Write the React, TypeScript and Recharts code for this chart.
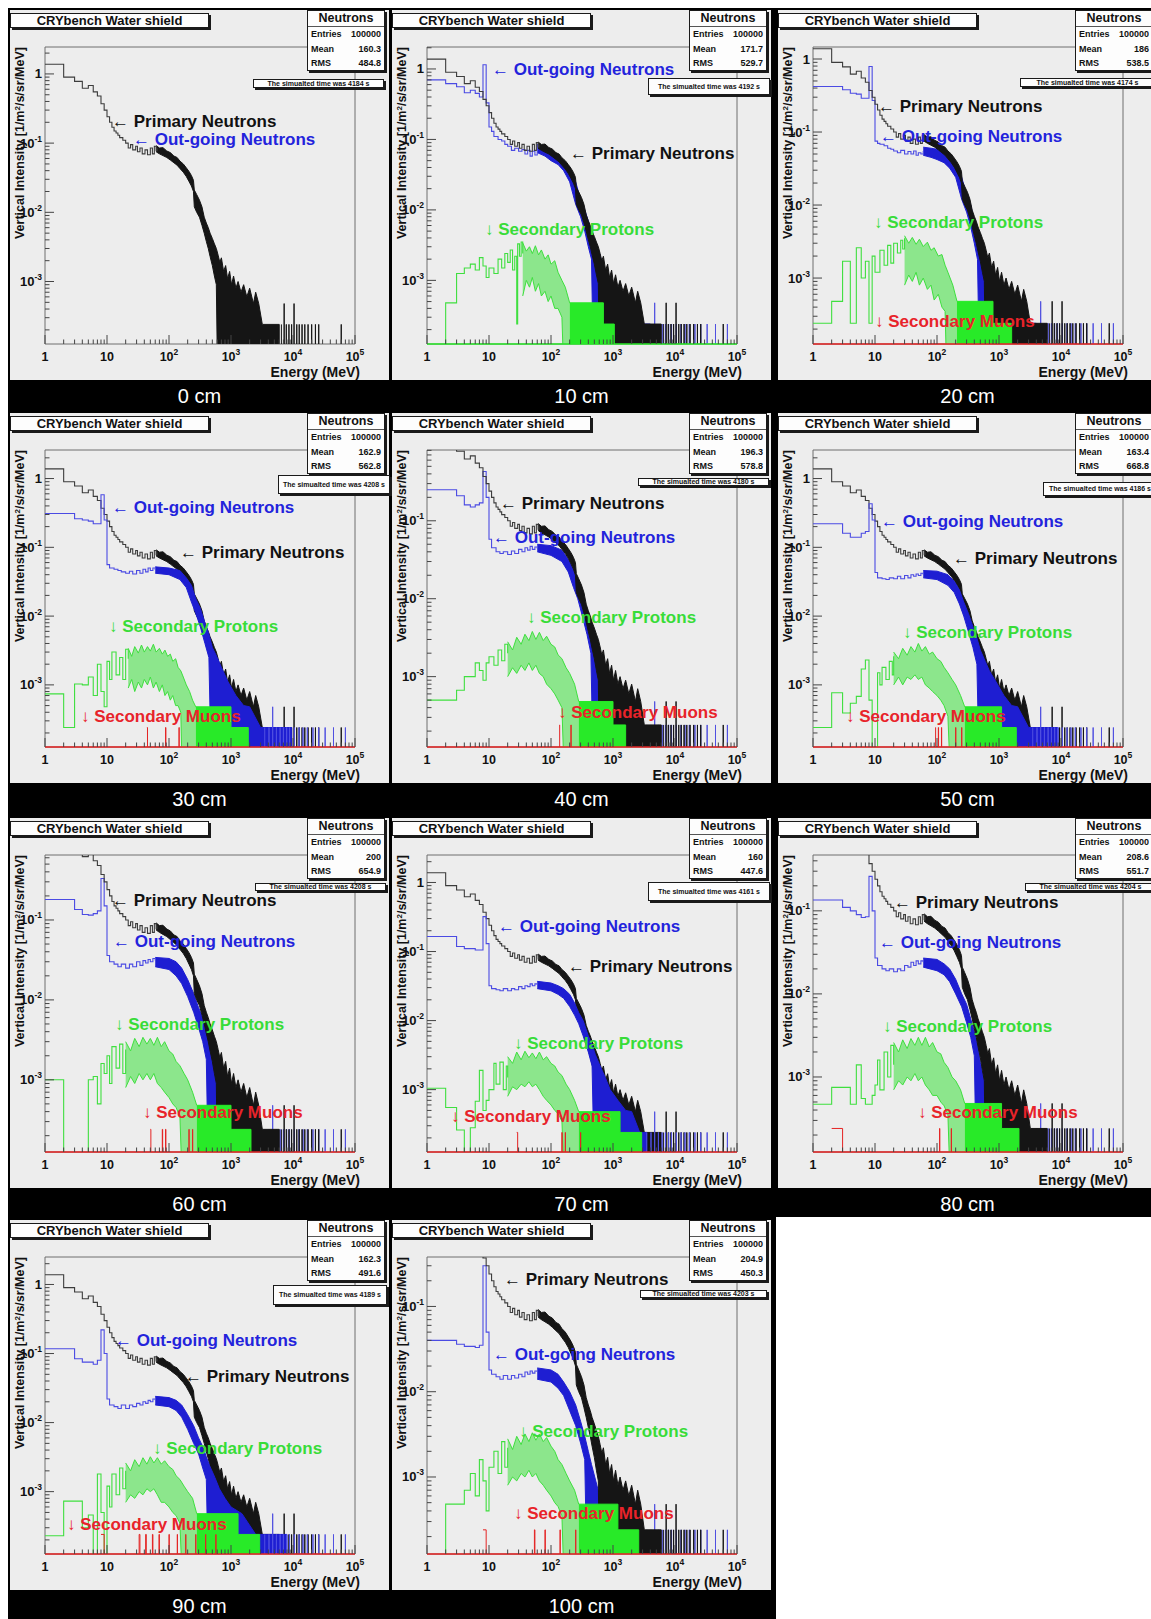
import React from 'react';
import { ComposedChart, Area, XAxis, YAxis, ReferenceLine, ReferenceArea } from 'recharts';

// ---------- constants ----------
const ZERO = 1e-5; // empty bin (drawn below the frame)
const ONE = 2.4e-4; // one-count level
const TWO = 4.8e-4; // two-count level

// ---------- panel info ----------
const DEPTHS = [0, 10, 20, 30, 40, 50, 60, 70, 80, 90, 100];
const ENTRIES = '100000';
const MEANS = ['160.3', '171.7', '186', '162.9', '196.3', '163.4', '200', '160', '208.6', '162.3', '204.9'];
const RMS = ['484.8', '529.7', '538.5', '562.8', '578.8', '668.8', '654.9', '447.6', '551.7', '491.6', '450.3'];
const SIM_TIMES = [4184, 4192, 4174, 4208, 4180, 4186, 4208, 4161, 4204, 4189, 4203];
const Y_MAX = [2.45, 2.05, 1.46, 2.6, 0.81, 2.6, 0.65, 2.5, 0.47, 2.5, 0.38];
const Y_MIN = 1.25e-4;

// ---------- axis ticks ----------
const X_MAJOR = [1, 10, 100, 1000, 10000, 100000];
const X_LABELS = [['1', ''], ['10', ''], ['10', '2'], ['10', '3'], ['10', '4'], ['10', '5']];
const X_DECADES = [1, 10, 100, 1000, 10000];
const MINOR_MULTS = [2, 3, 4, 5, 6, 7, 8, 9];
const Y_MAJOR = [1, 0.1, 0.01, 0.001];
const Y_LABELS = [['1', ''], ['10', '-1'], ['10', '-2'], ['10', '-3']];
const Y_DECADES = [1e-4, 1e-3, 1e-2, 1e-1, 1];

// ---------- primary neutrons (same input spectrum in every panel) ----------
const PRIMARY_LINE = [[1, 1.38], [2, 0.9], [3, 0.78], [4, 0.62], [5, 0.68], [6, 0.55], [7, 0.48], [8, 0.37], [9, 0.3], [10, 0.24], [11, 0.2], [12, 0.17], [13, 0.15], [14, 0.14], [15, 0.13], [16, 0.12], [18, 0.11], [20, 0.1], [22, 0.085], [24, 0.095], [26, 0.08], [29, 0.09], [31, 0.075], [34, 0.085], [37, 0.07], [41, 0.08], [45, 0.068], [50, 0.085], [54, 0.07], [58, 0.09], [62, 0.078], [64, 0.085]];
const PRIMARY_BAND = [[62, 0.075, 0.092], [70, 0.07, 0.085], [80, 0.066, 0.086], [92, 0.062, 0.077], [105, 0.057, 0.073], [120, 0.052, 0.065], [135, 0.048, 0.062], [150, 0.043, 0.055], [170, 0.038, 0.05], [190, 0.033, 0.044], [210, 0.028, 0.039], [230, 0.024, 0.034], [248, 0.02, 0.029], [256, 0.012, 0.021], [280, 0.01, 0.018], [310, 0.0085, 0.015], [340, 0.0065, 0.012], [370, 0.005, 0.0085], [400, 0.0038, 0.007], [430, 0.003, 0.006], [460, 0.0023, 0.005], [500, 0.0017, 0.0042], [540, 0.0012, 0.0035], [580, 0.0009, 0.003], [620, ZERO, 0.0024], [660, ZERO, 0.0019], [700, ZERO, 0.0022], [760, ZERO, 0.0014], [820, ZERO, 0.0017], [880, ZERO, 0.0011], [950, ZERO, 0.0014], [1020, ZERO, 0.0009], [1100, ZERO, 0.0012], [1200, ZERO, 0.0008], [1300, ZERO, 0.001], [1450, ZERO, 0.0007], [1600, ZERO, 0.0009], [1800, ZERO, 0.0006], [2000, ZERO, 0.0008], [2300, ZERO, TWO], [2500, ZERO, 0.0007], [2800, ZERO, TWO], [3200, ZERO, ONE], [6000, ZERO, ONE], [6001, ZERO, ZERO]];
const PRIMARY_TAIL = [[6500, ONE], [7200, TWO], [7800, ONE], [8600, ONE], [9500, ONE], [10400, TWO], [11500, ONE], [12600, ONE], [14000, ONE], [15500, ONE], [17500, ONE], [20000, ONE], [23000, ONE], [26000, ONE], [60000, ONE]];

// ---------- out-going neutrons ----------
const BLUE_TAIL = [[3500, ONE], [4100, ONE], [4700, TWO], [5400, ONE], [6200, ONE], [7000, ONE], [7900, ONE], [8800, ONE], [10500, ONE], [12500, ONE], [14500, ONE], [17000, ONE], [21000, ONE], [26000, ONE], [33000, ONE], [45000, ONE], [70000, ONE]];

const OUT_10 = [[1, 0.7], [2, 0.62], [3, 0.56], [4, 0.46], [5, 0.5], [6, 0.45], [7, 0.4], [8, 1.15], [9, 0.33], [10, 0.15], [11, 0.13], [12, 0.11], [14, 0.1], [16, 0.095], [18, 0.085], [20, 0.08], [23, 0.07], [26, 0.075], [30, 0.068], [34, 0.072], [38, 0.062], [42, 0.07], [46, 0.058], [50, 0.068], [55, 0.06], [60, 0.075]];
const OUT_BAND_10 = [[60, 0.065, 0.085], [80, 0.058, 0.078], [100, 0.05, 0.07], [130, 0.044, 0.06], [160, 0.036, 0.05], [200, 0.025, 0.04], [250, 0.012, 0.025], [300, 0.008, 0.014], [350, 0.005, 0.01], [400, 0.003, 0.007], [450, 0.002, 0.005], [500, ZERO, 0.0035], [600, ZERO, 0.0025], [700, ZERO, 0.0015], [900, ZERO, 0.001], [1200, ZERO, 0.0008], [1600, ZERO, 0.0006], [2000, ZERO, TWO], [2500, ZERO, ONE], [4000, ZERO, ONE], [4001, ZERO, ZERO]];
const OUT_20 = [[1, 0.42], [2, 0.42], [3, 0.38], [4, 0.34], [5, 0.33], [6, 0.29], [7, 0.29], [8, 0.79], [9, 0.27], [10, 0.075], [11, 0.07], [12, 0.068], [14, 0.065], [16, 0.06], [18, 0.058], [20, 0.055], [23, 0.052], [26, 0.056], [30, 0.05], [34, 0.054], [38, 0.05], [42, 0.055], [46, 0.048], [50, 0.052], [55, 0.05], [60, 0.055]];
const OUT_BAND_20 = [[60, 0.048, 0.062], [80, 0.045, 0.06], [100, 0.042, 0.058], [130, 0.038, 0.052], [160, 0.032, 0.046], [200, 0.024, 0.036], [250, 0.012, 0.024], [300, 0.008, 0.014], [350, 0.005, 0.01], [400, 0.003, 0.006], [450, 0.0018, 0.0045], [500, ZERO, 0.003], [600, ZERO, 0.002], [700, ZERO, 0.0014], [900, ZERO, 0.001], [1200, ZERO, 0.0008], [1600, ZERO, 0.0006], [2000, ZERO, TWO], [2500, ZERO, ONE], [4000, ZERO, ONE], [4001, ZERO, ZERO]];
const OUT_30 = [[1, 0.31], [2, 0.31], [3, 0.26], [4, 0.25], [5, 0.24], [6, 0.22], [7, 0.22], [8, 0.58], [9, 0.25], [10, 0.056], [11, 0.05], [13, 0.048], [15, 0.046], [17, 0.044], [20, 0.042], [23, 0.045], [26, 0.041], [30, 0.046], [34, 0.042], [38, 0.048], [42, 0.044], [46, 0.05], [50, 0.046], [55, 0.05], [60, 0.047]];
const OUT_BAND_30 = [[60, 0.042, 0.052], [100, 0.04, 0.05], [150, 0.034, 0.046], [190, 0.026, 0.036], [230, 0.016, 0.028], [270, 0.011, 0.018], [320, 0.007, 0.013], [380, 0.004, 0.008], [440, 0.0025, 0.0055], [500, ZERO, 0.0035], [600, ZERO, 0.0025], [700, ZERO, 0.0018], [900, ZERO, 0.0011], [1200, ZERO, 0.0007], [1600, ZERO, 0.0005], [2000, ZERO, TWO], [3000, ZERO, ONE], [9500, ZERO, ONE], [9501, ZERO, ZERO]];
const OUT_40 = [[1, 0.25], [2, 0.25], [3, 0.21], [4, 0.16], [5, 0.15], [6, 0.16], [7, 0.17], [8, 0.43], [9, 0.2], [10, 0.058], [11, 0.045], [13, 0.04], [15, 0.038], [17, 0.04], [20, 0.037], [23, 0.041], [26, 0.038], [30, 0.043], [34, 0.04], [38, 0.045], [42, 0.042], [46, 0.047], [50, 0.043], [55, 0.046], [60, 0.044]];
const OUT_BAND_40 = [[60, 0.04, 0.05], [100, 0.036, 0.048], [150, 0.03, 0.042], [190, 0.022, 0.032], [230, 0.014, 0.024], [270, 0.01, 0.016], [320, 0.006, 0.011], [380, 0.0035, 0.007], [440, 0.002, 0.005], [500, ZERO, 0.003], [600, ZERO, 0.002], [700, ZERO, 0.0012], [800, ZERO, 0.0007], [1000, ZERO, TWO], [1500, ZERO, ONE], [3000, ZERO, ONE], [3001, ZERO, ZERO]];
const OUT_50 = [[1, 0.22], [2, 0.22], [3, 0.16], [4, 0.14], [5, 0.14], [6, 0.16], [7, 0.17], [8, 0.43], [9, 0.25], [10, 0.043], [11, 0.036], [13, 0.035], [15, 0.034], [17, 0.036], [20, 0.035], [23, 0.038], [26, 0.035], [30, 0.039], [34, 0.036], [38, 0.04], [42, 0.038], [46, 0.041], [50, 0.039], [55, 0.042], [60, 0.04]];
const OUT_BAND_50 = [[60, 0.036, 0.046], [100, 0.034, 0.045], [150, 0.028, 0.04], [190, 0.022, 0.032], [230, 0.015, 0.024], [270, 0.01, 0.016], [320, 0.006, 0.011], [380, 0.0035, 0.007], [440, 0.002, 0.0048], [500, ZERO, 0.0032], [600, ZERO, 0.0022], [700, ZERO, 0.0016], [900, ZERO, 0.0011], [1200, ZERO, 0.0007], [1600, ZERO, 0.0005], [2000, ZERO, TWO], [3000, ZERO, ONE], [9000, ZERO, ONE], [9001, ZERO, ZERO]];
const OUT_60 = [[1, 0.18], [2, 0.18], [3, 0.135], [4, 0.117], [5, 0.115], [6, 0.12], [7, 0.13], [8, 0.33], [9, 0.15], [10, 0.036], [11, 0.03], [13, 0.028], [15, 0.026], [17, 0.028], [20, 0.025], [23, 0.028], [26, 0.026], [30, 0.03], [34, 0.027], [38, 0.031], [42, 0.029], [46, 0.032], [50, 0.03], [55, 0.033], [60, 0.031]];
const OUT_BAND_60 = [[60, 0.026, 0.034], [100, 0.024, 0.033], [130, 0.02, 0.03], [160, 0.016, 0.025], [200, 0.011, 0.018], [250, 0.007, 0.012], [300, 0.0045, 0.008], [350, 0.003, 0.006], [400, 0.0018, 0.004], [450, ZERO, 0.0028], [520, ZERO, 0.0018], [600, ZERO, 0.001], [700, ZERO, TWO], [900, ZERO, ONE], [1500, ZERO, ONE], [1501, ZERO, ZERO]];
const OUT_70 = [[1, 0.165], [2, 0.165], [3, 0.118], [4, 0.11], [5, 0.11], [6, 0.105], [7, 0.105], [8, 0.32], [9, 0.13], [10, 0.032], [11, 0.029], [13, 0.028], [15, 0.027], [17, 0.029], [20, 0.027], [23, 0.029], [26, 0.028], [30, 0.031], [34, 0.029], [38, 0.032], [42, 0.031], [46, 0.034], [50, 0.032], [55, 0.034], [60, 0.033]];
const OUT_BAND_70 = [[60, 0.029, 0.037], [100, 0.027, 0.035], [130, 0.024, 0.032], [160, 0.021, 0.029], [200, 0.016, 0.024], [240, 0.012, 0.018], [280, 0.009, 0.013], [330, 0.006, 0.01], [400, 0.0035, 0.006], [460, 0.0022, 0.0045], [520, ZERO, 0.0032], [620, ZERO, 0.0022], [750, ZERO, 0.0015], [900, ZERO, 0.001], [1200, ZERO, 0.0007], [1600, ZERO, 0.0005], [2000, ZERO, TWO], [2700, ZERO, ONE], [3500, ZERO, ONE], [3501, ZERO, ZERO]];
const OUT_80 = [[1, 0.135], [2, 0.135], [3, 0.11], [4, 0.1], [5, 0.09], [6, 0.083], [7, 0.085], [8, 0.26], [9, 0.1], [10, 0.027], [11, 0.022], [13, 0.02], [15, 0.019], [17, 0.02], [20, 0.0185], [23, 0.02], [26, 0.019], [30, 0.022], [34, 0.021], [38, 0.024], [42, 0.022], [46, 0.025], [50, 0.023], [55, 0.025], [60, 0.024]];
const OUT_BAND_80 = [[60, 0.021, 0.027], [100, 0.019, 0.026], [130, 0.017, 0.023], [160, 0.014, 0.02], [200, 0.01, 0.015], [250, 0.007, 0.01], [300, 0.0045, 0.0075], [350, 0.003, 0.005], [400, 0.0018, 0.0035], [450, ZERO, 0.0025], [500, ZERO, 0.0015], [600, ZERO, 0.0008], [700, ZERO, TWO], [900, ZERO, ONE], [1500, ZERO, ONE], [1501, ZERO, ZERO]];
const OUT_90 = [[1, 0.117], [2, 0.117], [3, 0.084], [4, 0.075], [5, 0.075], [6, 0.07], [7, 0.08], [8, 0.22], [9, 0.1], [10, 0.022], [11, 0.018], [13, 0.017], [15, 0.016], [17, 0.018], [20, 0.016], [23, 0.018], [26, 0.017], [30, 0.019], [34, 0.018], [38, 0.02], [42, 0.019], [46, 0.021], [50, 0.02], [55, 0.022], [60, 0.021]];
const OUT_BAND_90 = [[60, 0.018, 0.024], [100, 0.017, 0.023], [130, 0.015, 0.021], [160, 0.012, 0.018], [200, 0.008, 0.013], [250, 0.005, 0.009], [300, 0.0035, 0.006], [350, 0.0022, 0.0045], [400, 0.0015, 0.0032], [450, ZERO, 0.0024], [550, ZERO, 0.0016], [650, ZERO, 0.0011], [800, ZERO, 0.0008], [1000, ZERO, 0.0006], [1500, ZERO, TWO], [2500, ZERO, ONE], [8000, ZERO, ONE], [8001, ZERO, ZERO]];
const OUT_100 = [[1, 0.04], [2, 0.04], [3, 0.036], [4, 0.034], [5, 0.034], [6, 0.033], [7, 0.035], [8, 0.3], [9, 0.05], [10, 0.018], [11, 0.016], [13, 0.015], [15, 0.014], [17, 0.0155], [20, 0.014], [23, 0.0155], [26, 0.0145], [30, 0.016], [34, 0.015], [38, 0.017], [42, 0.016], [46, 0.0175], [50, 0.0165], [55, 0.0175], [60, 0.017]];
const OUT_BAND_100 = [[60, 0.014, 0.019], [100, 0.013, 0.018], [130, 0.011, 0.016], [160, 0.009, 0.013], [200, 0.006, 0.01], [250, 0.004, 0.007], [300, 0.0025, 0.0045], [350, 0.0016, 0.003], [400, ZERO, 0.002], [450, ZERO, 0.0014], [550, ZERO, 0.0008], [650, ZERO, TWO], [800, ZERO, ONE], [1200, ZERO, ONE], [1201, ZERO, ZERO]];

// ---------- secondary protons ----------
const PROT_10 = [[1, ZERO], [2, TWO], [3, 1.25e-3], [4, 1.5e-3], [5, 1.7e-3], [6, 1.4e-3], [7, 2.1e-3], [8, 1.6e-3], [9, 1.1e-3], [10, 1.5e-3], [12, 1.25e-3], [14, 2e-3], [16, 1.5e-3], [18, 2.4e-3], [20, 1.8e-3], [22, 2.7e-3], [24, 1.4e-3], [26, 2.2e-3], [28, ONE], [29, 3.3e-3], [31, 2.2e-3], [33, 3.5e-3], [35, 2.4e-3]];
const PROT_BAND_10 = [[35, 6e-4, 3.4e-3], [40, 1e-3, 2.6e-3], [45, 8e-4, 3e-3], [50, 1.1e-3, 2.4e-3], [56, 7e-4, 3.1e-3], [63, 9e-4, 2.3e-3], [70, 6e-4, 2.7e-3], [80, 7e-4, 2e-3], [90, 5e-4, 2.3e-3], [100, 6e-4, 1.7e-3], [115, 4e-4, 1.9e-3], [130, 4e-4, 1.3e-3], [150, 3e-4, 1e-3], [170, ZERO, 8e-4], [200, ZERO, TWO]];
const PROT_FLOOR_10 = [[200, ZERO, TWO], [700, ZERO, ONE], [1050, ZERO, ZERO]];
const PROT_20 = [[1, ONE], [2, TWO], [3, 1.7e-3], [4, ONE], [5, 2.6e-3], [6, 1e-3], [7, 1.7e-3], [8, ONE], [9, 2e-3], [10, 1.2e-3], [12, 2.4e-3], [14, 1.5e-3], [16, 2.8e-3], [18, 1.6e-3], [20, 3e-3], [23, 2.2e-3], [26, 3.3e-3], [28, 2.5e-3], [30, 3.5e-3]];
const PROT_BAND_20 = [[30, 8e-4, 3.8e-3], [35, 1.1e-3, 3e-3], [40, 9e-4, 3.6e-3], [46, 1.2e-3, 2.9e-3], [52, 8e-4, 3.4e-3], [60, 1e-3, 2.7e-3], [70, 7e-4, 3.1e-3], [80, 8e-4, 2.4e-3], [90, 5e-4, 2.6e-3], [105, 6e-4, 2e-3], [120, 4e-4, 2.1e-3], [135, 3.5e-4, 1.5e-3], [150, ZERO, 1.2e-3], [180, ZERO, 8e-4], [210, ZERO, TWO]];
const PROT_FLOOR_20 = [[210, ZERO, TWO], [800, ZERO, ONE], [1600, ZERO, ZERO]];
const PROT_30 = [[1, 7.4e-4], [2, ONE], [3, 1.03e-3], [4, 1e-3], [5, 1.3e-3], [6, 7e-4], [7, 2e-3], [8, 8e-4], [9, TWO], [10, 2.2e-3], [11, 1.2e-3], [12, 3e-3], [14, 1.4e-3], [16, 2.5e-3], [18, 1.2e-3], [20, 3.3e-3], [22, 2.4e-3]];
const PROT_BAND_30 = [[22, 9e-4, 3.4e-3], [25, 1.2e-3, 2.6e-3], [28, 8e-4, 3.6e-3], [32, 1.1e-3, 2.9e-3], [36, 9e-4, 3.8e-3], [40, 1.2e-3, 3e-3], [45, 1e-3, 3.6e-3], [50, 1.3e-3, 3.1e-3], [56, 9e-4, 3.9e-3], [62, 1.1e-3, 3e-3], [70, 8e-4, 3.4e-3], [78, 1e-3, 2.8e-3], [86, 7e-4, 3.2e-3], [95, 8e-4, 2.6e-3], [105, 6e-4, 2.8e-3], [115, 7e-4, 2.2e-3], [128, 5e-4, 2.4e-3], [140, 5e-4, 1.8e-3], [155, 4e-4, 1.6e-3], [170, ZERO, 1.3e-3], [190, ZERO, 1e-3], [215, ZERO, 8e-4], [240, ZERO, 6e-4], [270, ZERO, TWO]];
const PROT_FLOOR_30 = [[270, ZERO, TWO], [1000, ZERO, ONE], [1900, ZERO, ZERO]];
const PROT_40 = [[1, 5e-4], [2, 5e-4], [3, 6.7e-4], [4, 1e-3], [5, 1e-3], [6, 1.5e-3], [7, 1.2e-3], [8, 9e-4], [9, 1.5e-3], [10, 1.8e-3], [12, 1.4e-3], [14, 2.2e-3], [16, 1.6e-3], [18, 2.6e-3], [20, 2e-3]];
const PROT_BAND_40 = [[20, 1e-3, 2.8e-3], [24, 1.3e-3, 2.2e-3], [28, 1.1e-3, 3.2e-3], [33, 1.4e-3, 2.6e-3], [38, 1.2e-3, 3.5e-3], [44, 1.5e-3, 2.9e-3], [50, 1.2e-3, 3.8e-3], [57, 1.4e-3, 3e-3], [65, 1.1e-3, 3.7e-3], [75, 1e-3, 2.9e-3], [85, 8e-4, 3.3e-3], [100, 7e-4, 2.6e-3], [115, 6e-4, 2.4e-3], [130, 5e-4, 1.9e-3], [150, 4e-4, 1.7e-3], [175, ZERO, 1.3e-3], [200, ZERO, 1.1e-3], [240, ZERO, 8e-4], [280, ZERO, TWO]];
const PROT_FLOOR_40 = [[280, ZERO, TWO], [1000, ZERO, ONE], [1600, ZERO, ZERO]];
const PROT_50 = [[1, ONE], [2, 7.7e-4], [3, 3.9e-4], [4, 5.4e-4], [5, 6.8e-4], [6, 1.7e-3], [7, 2.3e-3], [8, 6e-4], [9, ZERO], [11, 1.5e-3], [12, 1e-3], [13, 1.8e-3], [15, 1.2e-3], [17, 2.2e-3], [19, 1.4e-3], [20, 2.6e-3]];
const PROT_BAND_50 = [[20, 1e-3, 3e-3], [24, 1.3e-3, 2.4e-3], [28, 1e-3, 3.4e-3], [33, 1.3e-3, 2.7e-3], [38, 1.2e-3, 3.6e-3], [44, 1.4e-3, 3e-3], [50, 1.2e-3, 4e-3], [57, 1.3e-3, 3.1e-3], [65, 1e-3, 3.6e-3], [75, 9e-4, 2.8e-3], [85, 8e-4, 3e-3], [100, 7e-4, 2.4e-3], [115, 6e-4, 2.2e-3], [130, 5e-4, 1.8e-3], [150, 3.5e-4, 1.5e-3], [175, ZERO, 1.2e-3], [200, ZERO, 1e-3], [240, ZERO, 7e-4], [280, ZERO, TWO]];
const PROT_FLOOR_50 = [[280, ZERO, TWO], [1100, ZERO, ONE], [1900, ZERO, ZERO]];
const PROT_60 = [[1, 1e-3], [2, ZERO], [5, 1e-3], [6, 1.1e-3], [7, 5e-4], [8, 1.6e-3], [9, 1.2e-3], [10, 2e-3], [11, 9e-4], [12, 2.6e-3], [14, 1.4e-3], [16, 2.8e-3], [18, 1.2e-3], [20, 2.4e-3]];
const PROT_BAND_60 = [[20, 8e-4, 3e-3], [24, 1.1e-3, 2.3e-3], [28, 9e-4, 3.3e-3], [33, 1.2e-3, 2.6e-3], [38, 1e-3, 3.4e-3], [44, 1.2e-3, 2.8e-3], [50, 1e-3, 3.3e-3], [57, 1.2e-3, 2.7e-3], [65, 9e-4, 3.4e-3], [75, 8e-4, 2.6e-3], [85, 7e-4, 3e-3], [100, 6e-4, 2.3e-3], [115, 5e-4, 2.1e-3], [130, 4.5e-4, 1.7e-3], [150, 3.5e-4, 1.5e-3], [175, ZERO, 1.2e-3], [200, ZERO, 1e-3], [240, ZERO, 7e-4], [280, ZERO, TWO]];
const PROT_FLOOR_60 = [[280, ZERO, TWO], [1000, ZERO, ONE], [2100, ZERO, ZERO]];
const PROT_70 = [[1, 1.05e-3], [2, 5.5e-4], [3, 2.6e-4], [4, ZERO], [5, 2.8e-4], [6, 6.8e-4], [7, 1.9e-3], [8, 5e-4], [9, 7e-4], [10, 1e-3], [12, 2.4e-3], [13, 1.2e-3], [15, 2.5e-3], [17, 1e-3], [19, 2.2e-3], [20, 1.5e-3]];
const PROT_BAND_70 = [[20, 8e-4, 3e-3], [24, 1.1e-3, 2.4e-3], [28, 1e-3, 3.5e-3], [33, 1.2e-3, 2.7e-3], [38, 1.1e-3, 3.6e-3], [44, 1.3e-3, 2.9e-3], [50, 1.1e-3, 3.4e-3], [57, 1.2e-3, 2.8e-3], [65, 1e-3, 3.5e-3], [75, 8e-4, 2.7e-3], [85, 7e-4, 3e-3], [100, 6e-4, 2.4e-3], [115, 5e-4, 2.2e-3], [130, 4.5e-4, 1.8e-3], [150, 3.5e-4, 1.6e-3], [175, ZERO, 1.2e-3], [200, ZERO, 1e-3], [240, ZERO, 7e-4], [280, ZERO, TWO]];
const PROT_FLOOR_70 = [[280, ZERO, TWO], [1300, ZERO, ONE], [2900, ZERO, ZERO]];
const PROT_80 = [[1, 4.7e-4], [2, 7.5e-4], [3, 7.5e-4], [4, 4.7e-4], [5, 1.4e-3], [6, 5.5e-4], [7, 4.7e-4], [8, 4.7e-4], [9, 6e-4], [10, 8e-4], [11, 1.6e-3], [12, 7e-4], [14, 2e-3], [16, 1e-3], [18, 2.4e-3], [20, 1.4e-3]];
const PROT_BAND_80 = [[20, 7e-4, 2.6e-3], [24, 9e-4, 2e-3], [28, 8e-4, 2.8e-3], [33, 1e-3, 2.2e-3], [38, 9e-4, 2.9e-3], [44, 1.1e-3, 2.4e-3], [50, 9e-4, 3e-3], [57, 1e-3, 2.4e-3], [65, 8e-4, 3e-3], [75, 7e-4, 2.3e-3], [85, 6e-4, 2.6e-3], [100, 6e-4, 2e-3], [115, 5e-4, 1.9e-3], [130, 4.5e-4, 1.5e-3], [150, 3.5e-4, 1.3e-3], [175, ZERO, 1e-3], [200, ZERO, 9e-4], [240, ZERO, 7e-4], [280, ZERO, TWO]];
const PROT_FLOOR_80 = [[280, ZERO, TWO], [1100, ZERO, ONE], [2100, ZERO, ZERO]];
const PROT_90 = [[1, 2.3e-4], [2, 7.3e-4], [3, 7.3e-4], [4, 3e-4], [5, 4.6e-4], [6, ZERO], [7, 1.8e-3], [8, 5e-4], [9, ZERO], [10, 1.2e-3], [11, 6e-4], [12, 1.8e-3], [14, 9e-4], [16, 2.2e-3], [18, 1.1e-3], [20, 2e-3]];
const PROT_BAND_90 = [[20, 7e-4, 2.6e-3], [24, 9e-4, 2e-3], [28, 8e-4, 2.9e-3], [33, 1e-3, 2.3e-3], [38, 9e-4, 3.1e-3], [44, 1.1e-3, 2.5e-3], [50, 1e-3, 3.2e-3], [57, 1.1e-3, 2.6e-3], [65, 9e-4, 3.1e-3], [75, 7e-4, 2.5e-3], [85, 7e-4, 2.8e-3], [100, 6e-4, 2.3e-3], [115, 5e-4, 2.1e-3], [130, 4.5e-4, 1.7e-3], [150, 3.5e-4, 1.5e-3], [175, ZERO, 1.2e-3], [200, ZERO, 1e-3], [240, ZERO, 8e-4], [280, ZERO, TWO]];
const PROT_FLOOR_90 = [[280, ZERO, TWO], [1300, ZERO, ONE], [2900, ZERO, ZERO]];
const PROT_100 = [[1, ZERO], [2, TWO], [3, TWO], [4, 7e-4], [5, 1.1e-3], [6, 6e-4], [7, 1.6e-3], [8, 9e-4], [9, 4e-4], [10, 1.3e-3], [12, 2e-3], [14, 1.1e-3], [16, 2.6e-3], [18, 1.3e-3], [20, 2.2e-3]];
const PROT_BAND_100 = [[20, 8e-4, 2.8e-3], [24, 1e-3, 2.1e-3], [28, 9e-4, 3e-3], [33, 1.1e-3, 2.4e-3], [38, 1e-3, 3.2e-3], [44, 1.2e-3, 2.6e-3], [50, 1e-3, 3.3e-3], [57, 1.1e-3, 2.7e-3], [65, 9e-4, 3.2e-3], [75, 8e-4, 2.6e-3], [85, 7e-4, 2.9e-3], [100, 6e-4, 2.3e-3], [115, 5e-4, 2e-3], [130, 4.5e-4, 1.6e-3], [150, 3.5e-4, 1.4e-3], [175, ZERO, 1.1e-3], [200, ZERO, 9e-4], [240, ZERO, 7e-4], [280, ZERO, TWO]];
const PROT_FLOOR_100 = [[280, ZERO, TWO], [1200, ZERO, ONE], [2600, ZERO, ZERO]];

// ---------- secondary muons (single-count bins) ----------
const MUON_30 = [[44, ONE], [88, ONE], [145, ONE]];
const MUON_40 = [[137, ONE], [210, ONE]];
const MUON_50 = [[94, ONE], [105, ONE], [118, ONE], [200, ONE], [250, ONE]];
const MUON_60 = [[50, ONE], [78, ONE], [88, ONE], [210, ONE], [240, ONE]];
const MUON_70 = [[28, ONE], [150, ONE], [170, ONE], [300, ONE]];
const MUON_80 = [[2, ONE], [110, ONE], [170, ONE]];
const MUON_90 = [[8, ONE], [33, ONE], [42, ONE], [54, ONE], [69, ONE], [100, ONE], [136, ONE], [186, ONE], [270, ONE], [390, ONE], [570, ONE]];
const MUON_100 = [[8, ONE], [54, ONE], [80, ONE], [140, ONE], [250, ONE]];

// ---------- tables built from the arrays ----------
const OUT_LINES = [null, OUT_10, OUT_20, OUT_30, OUT_40, OUT_50, OUT_60, OUT_70, OUT_80, OUT_90, OUT_100];
const OUT_BANDS = [null, OUT_BAND_10, OUT_BAND_20, OUT_BAND_30, OUT_BAND_40, OUT_BAND_50, OUT_BAND_60, OUT_BAND_70, OUT_BAND_80, OUT_BAND_90, OUT_BAND_100];
const PROT_LINES = [null, PROT_10, PROT_20, PROT_30, PROT_40, PROT_50, PROT_60, PROT_70, PROT_80, PROT_90, PROT_100];
const PROT_BANDS = [null, PROT_BAND_10, PROT_BAND_20, PROT_BAND_30, PROT_BAND_40, PROT_BAND_50, PROT_BAND_60, PROT_BAND_70, PROT_BAND_80, PROT_BAND_90, PROT_BAND_100];
const PROT_FLOORS = [null, PROT_FLOOR_10, PROT_FLOOR_20, PROT_FLOOR_30, PROT_FLOOR_40, PROT_FLOOR_50, PROT_FLOOR_60, PROT_FLOOR_70, PROT_FLOOR_80, PROT_FLOOR_90, PROT_FLOOR_100];
const MUONS = [null, null, [], MUON_30, MUON_40, MUON_50, MUON_60, MUON_70, MUON_80, MUON_90, MUON_100];

const toLine = (pts: number[][]) => pts.map(([e, v]) => ({ e, v }));
const toBand = (pts: number[][]) => pts.map(([e, lo, hi]) => ({ e, r: [lo, hi] }));
const toSpikes = (pts: number[][]) => pts.flatMap(([e, v]) => [{ e, r: [ZERO, v] }, { e: e + 1, r: [ZERO, ZERO] }]);

const X_TICKS = [...X_MAJOR, ...X_DECADES.flatMap((d) => MINOR_MULTS.map((m) => m * d))];
const Y_TICKS_ALL = [...Y_MAJOR, ...Y_DECADES.flatMap((d) => MINOR_MULTS.map((m) => m * d))];

// ---------- styles / layout ----------
const FONT = '"Liberation Sans", Arial, Helvetica, sans-serif';
const C = {
  black: '#151515', blackThin: '#3c3c3c',
  blue: '#1e1ed2', blueThin: '#4b4be3', blueSpike: '#5050e0',
  green: '#28ea28', greenMesh: '#62e262', greenThin: '#3fdf3f',
  red: '#e42323',
  txtBlack: '#111', txtBlue: '#2323dc', txtGreen: '#38dc38', txtRed: '#e8232a',
};
const COL_X = [2, 384, 770];
const ROW_Y = [2, 405, 810, 1212];
const PANEL_W = 379;
const PANEL_H = 370;
const MARGIN = { top: 37, right: 34, bottom: 35, left: 34 };
const BLUE_ON_TOP = [false, false, false, true, false, true, false, true, false, true, false];
const BASELINE = [null, C.green, C.red, C.red, C.red, C.red, C.red, C.red, C.red, C.red, C.red];
const TIME_BOX = [[243, 69, 131, 9], [256, 68, 122, 17], [242, 68, 135, 9], [268, 62, 112, 19], [246, 65, 131, 8], [265, 69, 114, 14], [245, 65, 131, 8], [256, 64, 122, 19], [247, 65, 131, 8], [263, 65, 114, 20], [248, 70, 127, 8]];
const ANNOT: any[][] = [
  [['p', 102, 112], ['o', 123, 130]],
  [['o', 100, 60], ['p', 178, 144], ['s', 93, 220]],
  [['p', 100, 97], ['o', 102, 127], ['s', 96, 213], ['m', 97, 312]],
  [['o', 102, 95], ['p', 170, 140], ['s', 99, 214], ['m', 71, 304]],
  [['p', 108, 91], ['o', 101, 125], ['s', 135, 205], ['m', 166, 300]],
  [['o', 103, 109], ['p', 175, 146], ['s', 125, 220], ['m', 68, 304]],
  [['p', 102, 83], ['o', 103, 124], ['s', 105, 207], ['m', 133, 295]],
  [['o', 106, 109], ['p', 176, 149], ['s', 122, 226], ['m', 59, 299]],
  [['p', 116, 85], ['o', 101, 125], ['s', 105, 209], ['m', 140, 295]],
  [['o', 105, 121], ['p', 175, 157], ['s', 143, 229], ['m', 57, 305]],
  [['p', 112, 60], ['o', 101, 135], ['s', 127, 212], ['m', 122, 294]],
];
const ANNOT_TEXT: Record<string, [string, string]> = {
  p: ['\u2190 Primary Neutrons', C.txtBlack],
  o: ['\u2190 Out-going Neutrons', C.txtBlue],
  s: ['\u2193 Secondary Protons', C.txtGreen],
  m: ['\u2193 Secondary Muons', C.txtRed],
};

function XTick(props: any) {
  const { x, y, payload } = props;
  const idx = X_MAJOR.indexOf(payload.value);
  const major = idx >= 0;
  return (
    <g>
      <line x1={x} x2={x} y1={y} y2={y - (major ? 9 : 4.5)} stroke="#444" strokeWidth={1} />
      {major && (
        <text x={x} y={y + 17} textAnchor="middle" fontFamily={FONT} fontWeight="bold" fontSize={12.5} fill="#111">
          {X_LABELS[idx][0]}
          {X_LABELS[idx][1] ? <tspan dy={-6} fontSize={8.5}>{X_LABELS[idx][1]}</tspan> : null}
        </text>
      )}
    </g>
  );
}

function YTick(props: any) {
  const { x, y, payload } = props;
  const idx = Y_MAJOR.indexOf(payload.value);
  const major = idx >= 0;
  return (
    <g>
      <line x1={x} x2={x + (major ? 9 : 4.5)} y1={y} y2={y} stroke="#444" strokeWidth={1} />
      {major && (
        <text x={x - 3} y={y + 4.5} textAnchor="end" fontFamily={FONT} fontWeight="bold" fontSize={13} fill="#111">
          {Y_LABELS[idx][0]}
          {Y_LABELS[idx][1] ? <tspan dy={-6} fontSize={8.5}>{Y_LABELS[idx][1]}</tspan> : null}
        </text>
      )}
    </g>
  );
}

function series(key: string, data: any[], dataKey: string, stroke: string, fill: string, curve: any = 'stepAfter', fillOpacity = 1, strokeWidth = 1) {
  return (
    <Area
      key={key}
      data={data}
      dataKey={dataKey}
      type={curve}
      stroke={stroke}
      strokeWidth={strokeWidth}
      fill={fill}
      fillOpacity={fillOpacity}
      isAnimationActive={false}
      dot={false}
      activeDot={false}
      legendType="none"
    />
  );
}

function Histogram({ i }: { i: number }) {
  const yMax = Y_MAX[i];
  const yTicks = Y_TICKS_ALL.filter((v) => v >= Y_MIN && v <= yMax * 1.0001);
  const black = [
    series('pb', toBand(PRIMARY_BAND), 'r', C.black, C.black, 'linear'),
    series('pt', toSpikes(PRIMARY_TAIL), 'r', C.black, 'none'),
    series('pl', toLine(PRIMARY_LINE), 'v', C.blackThin, 'none', 'stepAfter', 1, 1.1),
  ];
  const outLine = OUT_LINES[i];
  const blue = outLine
    ? [
        series('ob', toBand(OUT_BANDS[i] as number[][]), 'r', C.blue, C.blue, 'linear'),
        series('ot', toSpikes(BLUE_TAIL), 'r', C.blueSpike, 'none'),
        series('ol', toLine(outLine), 'v', C.blueThin, 'none', 'stepAfter', 1, 1.1),
      ]
    : [];
  const neutrons = BLUE_ON_TOP[i] ? [...black, ...blue] : [...blue, ...black];
  const protLine = PROT_LINES[i];
  const protons = protLine
    ? [
        series('sb', toBand(PROT_BANDS[i] as number[][]), 'r', C.greenThin, C.greenMesh, 'linear', 0.7),
        series('sf', toBand(PROT_FLOORS[i] as number[][]), 'r', C.green, C.green, 'stepAfter'),
        series('sl', toLine(protLine), 'v', C.greenThin, 'none', 'stepAfter', 1, 1.1),
      ]
    : [];
  const mu = MUONS[i];
  const muons = mu && mu.length ? [series('mu', toSpikes(mu), 'r', C.red, 'none')] : [];
  const base = BASELINE[i];
  return (
    <ComposedChart width={PANEL_W} height={PANEL_H} margin={MARGIN}>
      <ReferenceArea x1={1} x2={100000} y1={Y_MIN} y2={yMax} fill="none" stroke="#6e6e6e" strokeWidth={1} ifOverflow="visible" />
      <XAxis
        dataKey="e"
        type="number"
        scale="log"
        domain={[1, 100000]}
        allowDataOverflow
        ticks={X_TICKS}
        interval={0}
        tick={(p: any) => <XTick {...p} />}
        tickLine={false}
        axisLine={false}
        tickSize={0}
        tickMargin={0}
        height={1}
      />
      <YAxis
        type="number"
        scale="log"
        domain={[Y_MIN, yMax]}
        allowDataOverflow
        ticks={yTicks}
        interval={0}
        tick={(p: any) => <YTick {...p} />}
        tickLine={false}
        axisLine={false}
        tickSize={0}
        tickMargin={0}
        width={1}
      />
      {neutrons}
      {protons}
      {base ? <ReferenceLine y={Y_MIN} stroke={base} strokeWidth={1.5} ifOverflow="visible" /> : null}
      {muons}
    </ComposedChart>
  );
}

const shadowBox: React.CSSProperties = {
  position: 'absolute',
  background: '#fdfdfd',
  border: '1px solid #1a1a1a',
  boxShadow: '2px 2px 0 #1a1a1a',
  boxSizing: 'border-box',
  fontFamily: FONT,
  fontWeight: 'bold',
  color: '#111',
};

function Cell({ i }: { i: number }) {
  const col = i % 3;
  const row = Math.floor(i / 3);
  const [tx, ty, tw, th] = TIME_BOX[i];
  return (
    <div style={{ position: 'absolute', left: COL_X[col], top: ROW_Y[row], width: PANEL_W, height: PANEL_H + 34 }}>
      <div style={{ position: 'absolute', left: 0, top: 0, width: PANEL_W, height: PANEL_H, background: '#ededed' }}>
        <Histogram i={i} />
        <div style={{ ...shadowBox, left: 0, top: 3, width: 199, height: 15, fontSize: 13, lineHeight: '13px', textAlign: 'center' }}>
          CRYbench Water shield
        </div>
        <div style={{ ...shadowBox, left: 297, top: 0, width: 78, height: 61 }}>
          <div style={{ height: 15, borderBottom: '1px solid #555', fontSize: 12.5, lineHeight: '15px', textAlign: 'center' }}>Neutrons</div>
          {[['Entries', ENTRIES], ['Mean', MEANS[i]], ['RMS', RMS[i]]].map(([k, v]) => (
            <div key={k} style={{ display: 'flex', justifyContent: 'space-between', padding: '0 3px 0 3px', fontSize: 9, lineHeight: '14.5px' }}>
              <span>{k}</span>
              <span>{v}</span>
            </div>
          ))}
        </div>
        <div style={{ ...shadowBox, left: tx, top: ty, width: tw, height: th, fontSize: 7, lineHeight: `${th - 2}px`, textAlign: 'center', whiteSpace: 'nowrap', overflow: 'hidden' }}>
          The simualted time was {SIM_TIMES[i]} s
        </div>
        <svg width={30} height={PANEL_H} style={{ position: 'absolute', left: 0, top: 0, overflow: 'visible', pointerEvents: 'none' }}>
          <text transform={`translate(14,${MARGIN.top}) rotate(-90)`} textAnchor="end" fontFamily={FONT} fontWeight="bold" fontSize={12.5} fill="#111">
            Vertical Intensity [1/m<tspan dy={-4} fontSize={8}>2</tspan><tspan dy={4}>/s/sr/MeV]</tspan>
          </text>
        </svg>
        <div style={{ position: 'absolute', left: 230, width: 120, top: 355, textAlign: 'right', fontFamily: FONT, fontWeight: 'bold', fontSize: 14, lineHeight: '14px', color: '#111' }}>
          Energy (MeV)
        </div>
        {ANNOT[i].map(([k, x, yc]: any) => (
          <div key={k} style={{ position: 'absolute', left: x, top: yc - 10, whiteSpace: 'nowrap', fontFamily: FONT, fontWeight: 'bold', fontSize: 17, lineHeight: '20px', color: ANNOT_TEXT[k][1] }}>
            {ANNOT_TEXT[k][0]}
          </div>
        ))}
      </div>
      <div style={{ position: 'absolute', left: 0, top: PANEL_H, width: PANEL_W, height: 33, color: '#fff', textAlign: 'center', fontFamily: FONT, fontSize: 20, lineHeight: '33px' }}>
        {DEPTHS[i]} cm
      </div>
    </div>
  );
}

export default function App() {
  return (
    <div style={{ position: 'fixed', left: 8, top: 8, width: 1143, height: 1611, background: '#000', overflow: 'hidden' }}>
      <div style={{ position: 'absolute', left: 768, top: 1209, right: 0, bottom: 0, background: '#fff' }} />
      {DEPTHS.map((d, i) => (
        <Cell key={d} i={i} />
      ))}
    </div>
  );
}
